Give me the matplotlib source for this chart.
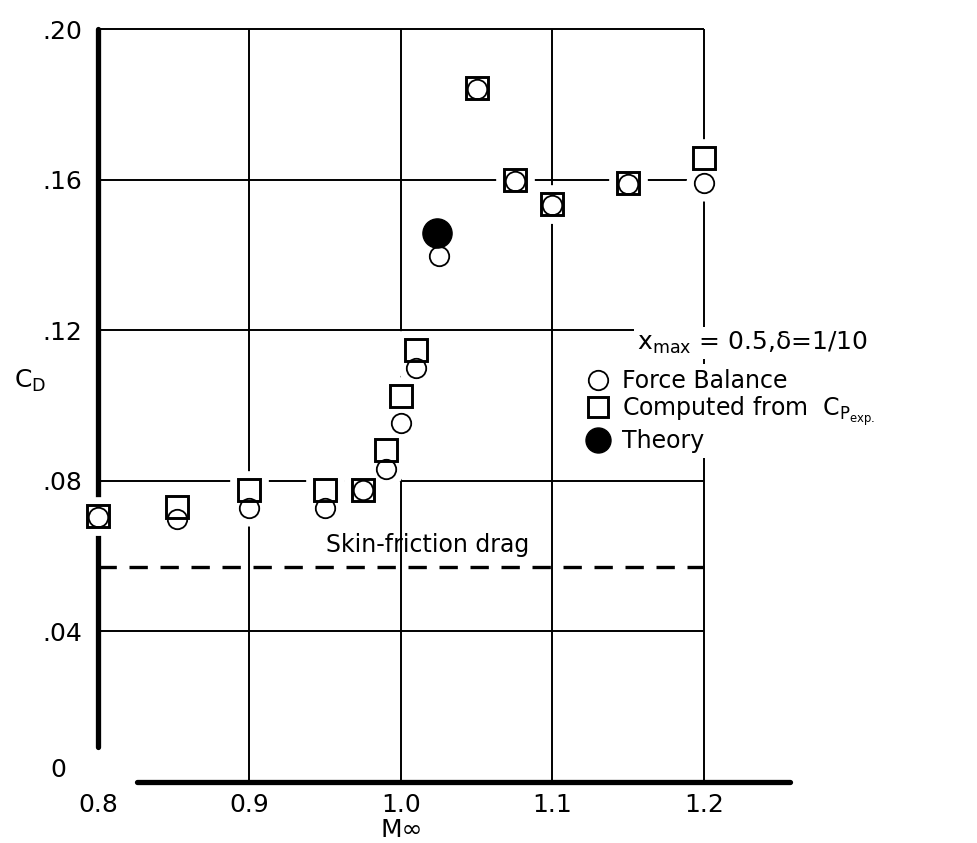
import matplotlib.pyplot as plt
from matplotlib.lines import Line2D

plt.rcParams['font.family'] = ['DejaVu Sans']
plt.rcParams['mathtext.default'] = 'regular'

# Force balance (open circles)
mach_bal = [0.80, 0.852, 0.90, 0.95, 0.975, 0.99, 1.00, 1.01, 1.025, 1.05, 1.075, 1.10, 1.15, 1.20]
cd_bal = [0.0704, 0.0699, 0.0728, 0.0728, 0.0776, 0.0831, 0.0953, 0.110, 0.1397, 0.184, 0.1596, 0.1532, 0.1588, 0.159]

# computed from Cp exp. (open squares)
mach_cp = [0.80, 0.852, 0.90, 0.95, 0.975, 0.99, 1.00, 1.01, 1.05, 1.075, 1.10, 1.15, 1.20]
cd_cp = [0.0706, 0.073, 0.0776, 0.0776, 0.0776, 0.0882, 0.1025, 0.1147, 0.1843, 0.160, 0.1535, 0.159, 0.1657]

# theory (filled circle)
mach_th = [1.024]
cd_th = [0.1458]

skin_friction = 0.057

xgrid = [0.9, 1.0, 1.1, 1.2]
ygrid = [0.04, 0.08, 0.12, 0.16, 0.20]
xticks = [0.8, 0.9, 1.0, 1.1, 1.2]
xlabels = ['0.8', '0.9', '1.0', '1.1', '1.2']
ylabels = ['.04', '.08', '.12', '.16', '.20']

fig = plt.figure(figsize=(9.78, 8.43), dpi=100)
ax = fig.add_axes([0.1002, 0.0724, 0.728, 0.9155])
ax.set_xlim(0.8, 1.27)
ax.set_ylim(0, 0.205)

# grid box
ax.vlines(xgrid, 0, 0.20, color='black', lw=1.4, zorder=1)
ax.hlines(ygrid, 0.8, 1.2, color='black', lw=1.4, zorder=1)
ax.plot([0.8, 1.2], [skin_friction, skin_friction], color='black', lw=2.4,
        dashes=(5.5, 3.8), zorder=1)

for s in ['top', 'right']:
    ax.spines[s].set_visible(False)
ax.spines['left'].set_bounds(0.0093, 0.20)
ax.spines['bottom'].set_bounds(0.826, 1.257)
for s in ['left', 'bottom']:
    ax.spines[s].set_linewidth(3.8)
    ax.spines[s].set_capstyle('round')

# white gaps in the grid around the symbols
ax.plot(mach_cp, cd_cp, 's', ms=16, mfc='white', mec='white', mew=12, zorder=2.7, clip_on=False)
ax.plot(mach_bal, cd_bal, 'o', ms=14, mfc='white', mec='white', mew=12, zorder=2.7, clip_on=False)

ax.plot(mach_cp, cd_cp, 's', ms=16, mfc='none', mec='black', mew=2.1, zorder=3, clip_on=False)
ax.plot(mach_bal, cd_bal, 'o', ms=14, mfc='none', mec='black', mew=1.3, zorder=3.1, clip_on=False)
ax.plot(mach_th, cd_th, 'o', ms=21, mfc='black', mec='black', zorder=3.2)

ax.set_xticks(xticks, labels=xlabels)
ax.set_yticks(ygrid, labels=ylabels)
ax.tick_params(length=0, labelsize=18)
ax.tick_params(axis='y', pad=11)
ax.tick_params(axis='x', pad=8)
ax.text(0.7736, 0.0032, '0', fontsize=18, ha='center', va='center', clip_on=False)

ax.set_xlabel('M∞', fontsize=18, va='center')
ax.xaxis.set_label_coords(0.427, -0.062)
ax.set_ylabel('C$_D$', fontsize=18, rotation=0, ha='center', va='center')
ax.yaxis.set_label_coords(-0.095, 0.52)

ax.text(1.0178, 0.063, 'Skin-friction drag', fontsize=17, ha='center', va='center')

ax.text(1.1558, 0.1166, 'x$_{max}$ = 0.5,δ=1/10', fontsize=18, ha='left', va='center',
        bbox=dict(facecolor='white', edgecolor='none', pad=2), zorder=4)

handles = [
    Line2D([], [], ls='none', marker='o', ms=14, mfc='none', mec='black', mew=1.3),
    Line2D([], [], ls='none', marker='s', ms=15, mfc='none', mec='black', mew=2.1),
    Line2D([], [], ls='none', marker='o', ms=18, mfc='black', mec='black'),
]
labels = ['Force Balance', 'Computed from  C$_{P_{exp.}}$', 'Theory']
leg = ax.legend(handles, labels, loc='upper left', bbox_to_anchor=(0.595, 0.568),
                bbox_transform=fig.transFigure, fontsize=17, handlelength=1.0,
                handletextpad=0.5, labelspacing=0.05, borderpad=0.2, borderaxespad=0,
                frameon=True, fancybox=False, edgecolor='none', facecolor='white',
                framealpha=1)
leg.set_zorder(4)

fig.savefig('out.png', dpi=100)
